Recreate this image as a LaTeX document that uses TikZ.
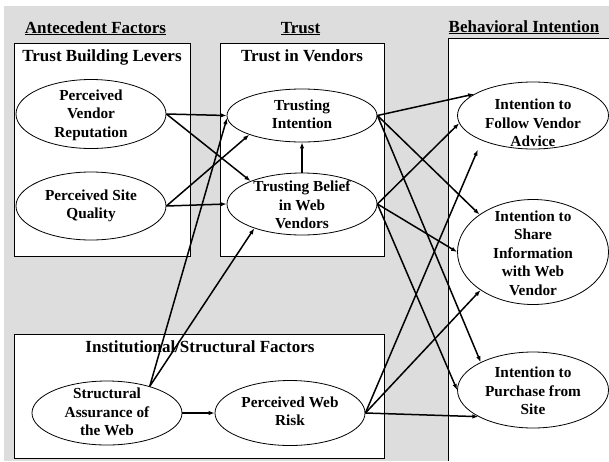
\documentclass[tikz,border=0pt]{standalone}
\usepackage{fontspec}
\setmainfont{Liberation Serif}
\usepackage{xcolor}
\usetikzlibrary{shapes.geometric,arrows.meta}

\definecolor{panelgray}{RGB}{221,221,221}

\tikzset{
  factor/.style={ellipse, draw, line width=0.8pt, fill=white, minimum width=150pt, inner sep=0pt},
  factortext/.style={align=center, font=\fontsize{15.3}{18.4}\selectfont\bfseries},
  heading/.style={anchor=base, font=\fontsize{17}{20}\selectfont\bfseries},
  link/.style={-{Latex[length=6pt,width=4.5pt]}, line width=1.5pt},
}

\begin{document}
\begin{tikzpicture}[x=1pt,y=-1pt]
  \useasboundingbox (0,0) rectangle (609,461);
  \fill[panelgray] (4,6) rectangle (609,461);
  % panels
  \draw[fill=white, line width=0.8pt] (14,43) rectangle (190,256);
  \draw[fill=white, line width=0.8pt] (220,43) rectangle (384,256);
  \draw[fill=white, line width=0.8pt] (14,334) rectangle (384,458);
  \fill[white] (448,38) rectangle (609,461);
  \draw[line width=0.8pt] (448,461) |- (609,38);

  % column headings
  \node[heading] (antec) at (95.5,33) {\underline{Antecedent Factors}};
  \node[heading] (trust) at (300.5,33) {\underline{Trust}};
  \node[heading] (behav) at (524,32) {\underline{Behavioral Intention}};

  % panel titles
  \node[heading] (levers) at (102,61) {Trust Building Levers};
  \node[heading] (vendors) at (302,61) {Trust in Vendors};
  \node[heading] (inst) at (200,352) {Institutional/Structural Factors};

  % factors
  \node[factor, minimum height=69pt] (reput) at (91,114) {};
  \node[factortext] (reput-t) at (91,115) {Perceived\\Vendor\\Reputation};
  \node[factor, minimum height=68pt] (quality) at (91,206) {};
  \node[factortext] (quality-t) at (91,206) {Perceived Site\\Quality};
  \node[factor, minimum height=53pt] (intent) at (302,115.5) {};
  \node[factortext] (intent-t) at (302,114) {Trusting\\Intention};
  \node[factor, minimum height=62pt] (belief) at (302,204) {};
  \node[factortext] (belief-t) at (302,205) {Trusting Belief\\in Web\\Vendors};
  \node[factor, minimum width=151pt, minimum height=67pt] (follow) at (533,115.5) {};
  \node[factortext] (follow-t) at (533,123) {Intention to\\Follow Vendor\\Advice};
  \node[factor, minimum width=151pt, minimum height=105pt] (share) at (533,252) {};
  \node[factortext] (share-t) at (533,253) {Intention to\\Share\\Information\\with Web\\Vendor};
  \node[factor, minimum width=151pt, minimum height=76pt] (purchase) at (533,390) {};
  \node[factortext] (purchase-t) at (533,391) {Intention to\\Purchase from\\Site};
  \node[factor, minimum height=64pt] (assure) at (107,413) {};
  \node[factortext] (assure-t) at (107,412) {Structural\\Assurance of\\the Web};
  \node[factor, minimum height=65pt] (risk) at (290,413) {};
  \node[factortext] (risk-t) at (290,411) {Perceived Web\\Risk};

  % paths
  \foreach \a/\b in {reput.east/intent.west, reput.east/belief.156,
      quality.east/intent.200, quality.east/belief.west,
      belief.north/intent.south,
      assure.32/intent.182, assure.32/belief.207, assure.east/risk.west,
      intent.east/follow.160, intent.east/share.145, intent.east/purchase.152,
      belief.east/follow.186, belief.east/share.west, belief.east/purchase.west,
      risk.east/share.216, risk.east/purchase.206} {
    \draw[link] (\a) -- (\b);
  }
  \draw[link, shorten >=10pt] (risk.east) -- (follow.206);
\end{tikzpicture}
\end{document}
